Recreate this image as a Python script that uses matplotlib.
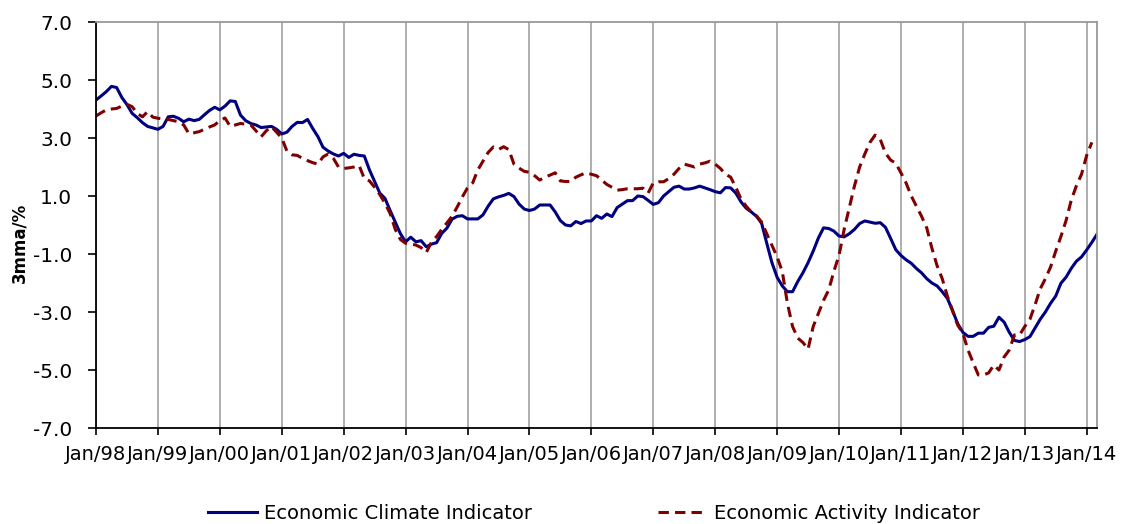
import numpy as np
import matplotlib
matplotlib.use("Agg")
import matplotlib.pyplot as plt

plt.rcParams['font.family'] = ['DejaVu Sans']
plt.rcParams['axes.unicode_minus'] = False

years = ["98", "99", "00", "01", "02", "03", "04", "05", "06", "07",
         "08", "09", "10", "11", "12", "13", "14"]
tick_labels = ["Jan/" + y for y in years]

# Monthly values, Jan/98 .. Mar/14
climate = [
    4.31, 4.45, 4.60, 4.78, 4.74, 4.40, 4.15, 3.85, 3.70, 3.53, 3.40, 3.35,   # 1998
    3.30, 3.40, 3.73, 3.75, 3.68, 3.56, 3.65, 3.60, 3.64, 3.80, 3.95, 4.06,   # 1999
    3.97, 4.10, 4.28, 4.26, 3.79, 3.60, 3.50, 3.45, 3.36, 3.38, 3.40, 3.30,   # 2000
    3.14, 3.20, 3.40, 3.54, 3.53, 3.64, 3.33, 3.05, 2.68, 2.55, 2.45, 2.38,   # 2001
    2.47, 2.33, 2.44, 2.40, 2.38, 1.90, 1.50, 1.10, 0.92, 0.50, 0.10, -0.30,  # 2002
    -0.58, -0.42, -0.58, -0.54, -0.75, -0.66, -0.61, -0.29, -0.11, 0.20, 0.30, 0.32,  # 2003
    0.21, 0.21, 0.21, 0.35, 0.65, 0.90, 0.97, 1.02, 1.09, 0.98, 0.72, 0.55,   # 2004
    0.50, 0.55, 0.69, 0.69, 0.69, 0.45, 0.15, 0.00, -0.03, 0.12, 0.05, 0.14,  # 2005
    0.14, 0.32, 0.23, 0.38, 0.29, 0.60, 0.72, 0.84, 0.84, 1.00, 0.98, 0.85,   # 2006
    0.71, 0.77, 1.00, 1.15, 1.30, 1.34, 1.24, 1.24, 1.28, 1.34, 1.28, 1.22,   # 2007
    1.15, 1.11, 1.29, 1.28, 1.10, 0.80, 0.58, 0.45, 0.30, 0.06, -0.63, -1.30, # 2008
    -1.80, -2.10, -2.30, -2.30, -1.95, -1.65, -1.30, -0.90, -0.45, -0.10, -0.12, -0.21,  # 2009
    -0.38, -0.41, -0.30, -0.15, 0.05, 0.14, 0.10, 0.06, 0.08, -0.08, -0.46, -0.85,      # 2010
    -1.05, -1.20, -1.32, -1.50, -1.65, -1.85, -2.00, -2.10, -2.30, -2.53, -2.95, -3.40,  # 2011
    -3.70, -3.84, -3.84, -3.73, -3.73, -3.53, -3.49, -3.18, -3.35, -3.70, -3.98, -4.02,  # 2012
    -3.95, -3.85, -3.55, -3.25, -3.00, -2.70, -2.45, -2.01, -1.80, -1.50, -1.25, -1.10,  # 2013
    -0.86, -0.60, -0.32,                                                                # 2014
]

activity = [
    3.76, 3.87, 3.97, 4.00, 4.02, 4.10, 4.16, 4.08, 3.85, 3.73, 3.91, 3.72,   # 1998
    3.68, 3.66, 3.64, 3.60, 3.56, 3.45, 3.15, 3.18, 3.22, 3.30, 3.38, 3.45,   # 1999
    3.60, 3.69, 3.40, 3.45, 3.50, 3.48, 3.45, 3.25, 3.04, 3.25, 3.39, 3.20,   # 2000
    3.00, 2.55, 2.42, 2.40, 2.30, 2.22, 2.15, 2.10, 2.35, 2.45, 2.30, 2.00,   # 2001
    1.95, 1.97, 2.00, 2.05, 1.60, 1.52, 1.30, 1.05, 0.75, 0.40, -0.15, -0.50, # 2002
    -0.63, -0.66, -0.69, -0.78, -0.95, -0.60, -0.40, -0.15, 0.07, 0.30, 0.62, 0.97,  # 2003
    1.28, 1.45, 1.90, 2.20, 2.50, 2.69, 2.60, 2.70, 2.60, 2.10, 1.96, 1.85,   # 2004
    1.82, 1.70, 1.55, 1.65, 1.72, 1.80, 1.52, 1.50, 1.50, 1.65, 1.73, 1.80,   # 2005
    1.75, 1.70, 1.55, 1.40, 1.30, 1.20, 1.22, 1.25, 1.25, 1.25, 1.27, 1.10,   # 2006
    1.45, 1.49, 1.49, 1.60, 1.75, 1.95, 2.10, 2.05, 2.00, 2.10, 2.14, 2.20,   # 2007
    2.10, 1.95, 1.75, 1.65, 1.30, 0.90, 0.65, 0.45, 0.32, 0.10, -0.30, -0.70, # 2008
    -1.10, -1.60, -2.70, -3.50, -3.90, -4.05, -4.28, -3.50, -3.05, -2.60, -2.24, -1.60,  # 2009
    -1.05, -0.15, 0.60, 1.35, 2.00, 2.45, 2.85, 3.10, 2.95, 2.48, 2.24, 2.13,           # 2010
    1.80, 1.45, 1.00, 0.65, 0.30, -0.10, -0.80, -1.40, -1.85, -2.45, -2.95, -3.45,      # 2011
    -3.73, -4.31, -4.75, -5.17, -5.17, -5.10, -4.83, -5.00, -4.55, -4.31, -3.79, -3.79, # 2012
    -3.50, -3.25, -2.75, -2.20, -1.85, -1.45, -0.90, -0.40, 0.15, 0.85, 1.35, 1.75,     # 2013
    2.40, 2.85, np.nan,                                                                 # 2014
]

y_ticks = [-7, -5, -3, -1, 1, 3, 5, 7]

fig = plt.figure(figsize=(11.25, 5.24), dpi=100)
ax = fig.add_axes([96 / 1125, 1 - 428 / 524, (1097 - 96) / 1125, (428 - 22) / 524])

x = np.arange(len(climate))
ln1, = ax.plot(x, climate, color="#000080", lw=2.2, solid_joinstyle="round",
               label="Economic Climate Indicator")
ln2, = ax.plot(x, activity, color="#800000", lw=2.2, dashes=(3.4, 2.0),
               label="Economic Activity Indicator")

ax.set_xlim(0, len(climate) - 1)
ax.set_ylim(-7, 7)

xt = np.arange(len(tick_labels)) * 12
ax.set_xticks(xt)
ax.set_xticklabels(tick_labels, fontsize=14)
ax.set_yticks(y_ticks)
ax.set_yticklabels(["%.1f" % v for v in y_ticks], fontsize=14.5)

ax.xaxis.grid(True, color="#999999", lw=1.1)
ax.yaxis.grid(False)
ax.set_axisbelow(True)

for s in ["left", "bottom"]:
    ax.spines[s].set_color("black")
    ax.spines[s].set_linewidth(1.3)
for s in ["top", "right"]:
    ax.spines[s].set_color("#999999")
    ax.spines[s].set_linewidth(1.3)

ax.tick_params(axis="y", direction="out", length=6, width=1.2, pad=11)
ax.tick_params(axis="x", direction="out", length=5, width=1.2, pad=7)

ax.set_ylabel("3mma/%", fontsize=12, fontweight="bold")
ax.yaxis.set_label_coords(-0.068, 0.455)

leg = fig.legend(handles=[ln1, ln2], loc="center", ncol=2,
                 bbox_to_anchor=(0.528, 0.02), bbox_transform=fig.transFigure,
                 frameon=False, fontsize=14, handlelength=2.5,
                 handletextpad=0.35, columnspacing=6.5)

fig.savefig("out.png", dpi=100)
